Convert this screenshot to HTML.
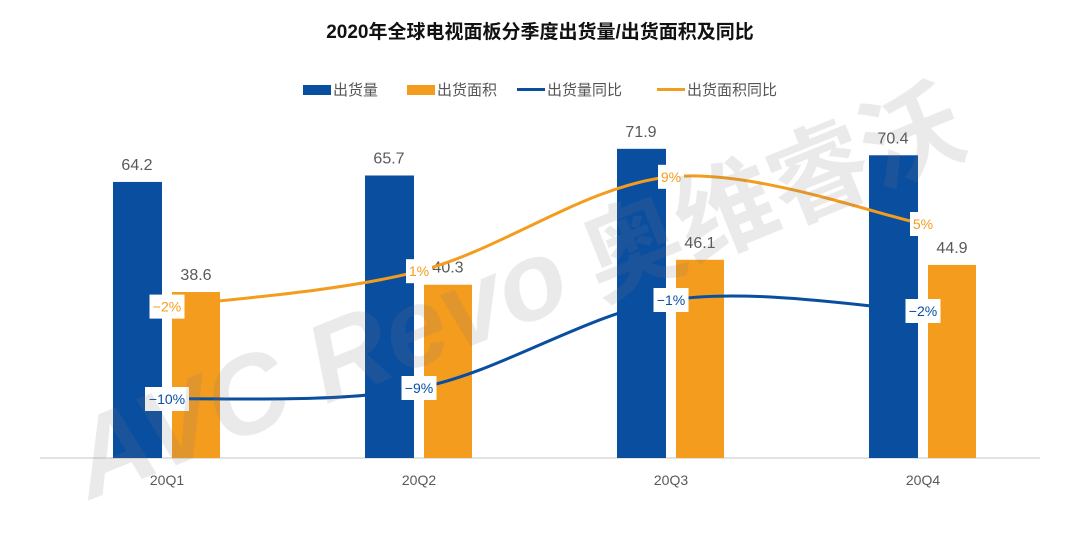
<!DOCTYPE html>
<html><head><meta charset="utf-8"><style>
body{margin:0;background:#fff;}
svg text{font-family:"Liberation Sans","Noto Sans CJK SC",sans-serif;}
</style></head><body>
<svg id="chart" width="1080" height="531" viewBox="0 0 1080 531" xmlns="http://www.w3.org/2000/svg">
<text x="540" y="38" text-anchor="middle" font-size="19" font-weight="bold" fill="#111">2020年全球电视面板分季度出货量/出货面积及同比</text>
<g font-size="15" fill="#555">
<g><rect x="303" y="85" width="28" height="10" fill="#0a4ea0"/><text x="333" y="95">出货量</text></g>
<g><rect x="407" y="85" width="28" height="10" fill="#f39c1e"/><text x="437" y="95">出货面积</text></g>
<g><rect x="517" y="88" width="28" height="3" fill="#0a4ea0"/><text x="547" y="95">出货量同比</text></g>
<g><rect x="657" y="88" width="28" height="3" fill="#f39c1e"/><text x="687" y="95">出货面积同比</text></g>
</g>
<g id="marks"></g>
<g opacity="0.16" fill="#777" font-weight="bold">
<text x="90" y="500" font-size="110" transform="rotate(-22 90 500)" font-style="italic">AVC Revo</text>
<text x="600" y="300" font-size="100" transform="rotate(-22 600 300)">奥维睿沃</text>
</g>
</svg>
<script>
const categories=["20Q1","20Q2","20Q3","20Q4"];
const shipments=[64.2,65.7,71.9,70.4];
const area=[38.6,40.3,46.1,44.9];
const shipYoY=[-10,-9,-1,-2];
const areaYoY=[-2,1,9,5];
const ns="http://www.w3.org/2000/svg";
const g=document.getElementById('marks');
const base=458;
const xC=i=>167+i*252;
const yBar=v=>base-v*4.3;
const yShip=v=>289-v*11;
const yArea=v=>283-v*11.8;
function mk(t,a){const e=document.createElementNS(ns,t);for(const k in a)e.setAttribute(k,a[k]);g.appendChild(e);return e;}
const ax=mk('line',{x1:40,x2:1040,y1:base,y2:base,stroke:'#d9d9d9','stroke-width':1.5});


categories.forEach((c,i)=>{
 const b=mk('rect',{x:xC(i)-54,y:yBar(shipments[i]),width:49,height:base-yBar(shipments[i]),fill:'#0a4ea0'});
 
 
 const o=mk('rect',{x:xC(i)+5,y:yBar(area[i]),width:48,height:base-yBar(area[i]),fill:'#f39c1e'});
 
 
 const t1=mk('text',{x:xC(i)-30,y:yBar(shipments[i])-12,'text-anchor':'middle','font-size':16,fill:'#595959'});t1.textContent=shipments[i].toFixed(1);
 
 
 const t2=mk('text',{x:xC(i)+29,y:yBar(area[i])-12,'text-anchor':'middle','font-size':16,fill:'#595959'});t2.textContent=area[i].toFixed(1);
 
 
 const xl=mk('text',{x:xC(i),y:485,'text-anchor':'middle','font-size':14,fill:'#595959'});xl.textContent=c;
 
 
});
function curve(vals,yf,color,name){
 const p=vals.map((v,i)=>[xC(i),yf(v)]);
 let d='M'+p[0][0]+','+p[0][1];
 for(let i=0;i<p.length-1;i++){
  const p0=p[i-1]||p[i],p1=p[i],p2=p[i+1],p3=p[i+2]||p2;
  const c1=[p1[0]+(p2[0]-p0[0])/6,p1[1]+(p2[1]-p0[1])/6],c2=[p2[0]-(p3[0]-p1[0])/6,p2[1]-(p3[1]-p1[1])/6];
  d+=' C'+c1+' '+c2+' '+p2;
 }
 const l=mk('path',{d:d,fill:'none',stroke:color,'stroke-width':3});
 
 
 vals.forEach((v,i)=>{
  const txt=(v<0?'−'+(-v):v)+'%';
  const w=txt.length*9+8;
  const r=mk('rect',{x:p[i][0]-w/2,y:p[i][1]-12,width:w,height:24,fill:'#fff'});
  
  
  const t=mk('text',{x:p[i][0],y:p[i][1]+5,'text-anchor':'middle','font-size':14,fill:color});t.textContent=txt;
  
  
 });
}
curve(areaYoY,yArea,'#f39c1e','area-yoy');
curve(shipYoY,yShip,'#0a4ea0','shipments-yoy');
</script>
</body></html>
